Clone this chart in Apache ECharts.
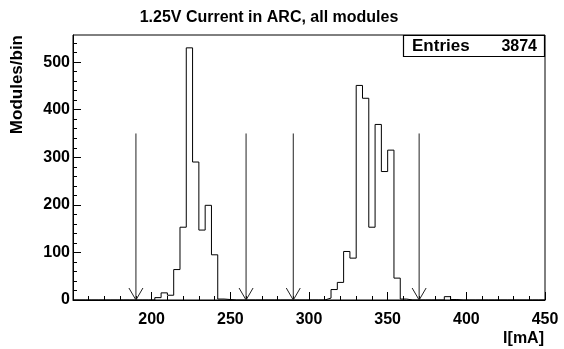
<!DOCTYPE html>
<html>
<head>
<meta charset="utf-8">
<script src="https://cdn.jsdelivr.net/npm/echarts@6/dist/echarts.min.js"></script>
<style>html,body{margin:0;padding:0;background:#fff}#c{width:564px;height:349px}</style>
</head>
<body>
<div id="c"></div>
<script>
var titleText = '1.25V Current in ARC, all modules';
var xTitle = 'I[mA]';
var yTitle = 'Modules/bin';
var xMin = 150, xMax = 450, binWidth = 4;
var yMax = 557;
// counts per 4 mA bin, 150..450 (75 bins)
var counts = [
  0,0,0,0,0,0,0,0,0,0,0,0,0,
  5,15,10,64,153,530,290,147,199,95,2,1,
  0,0,0,0,0,0,0,0,0,0,0,0,0,0,0,
  4,22,37,102,88,451,424,153,369,270,315,46,2,
  0,0,0,0,0,0,
  7,1,
  0,0,0,0,0,0,0,0,0,0,0,0,0,0
];
var arrowX = [190, 260, 290, 370];
var arrowTop = 350;
var entries = 3874;
var yMajorTicks = [0,100,200,300,400,500];
var yMinorTicks = [20,40,60,80,120,140,160,180,220,240,260,280,320,340,360,380,420,440,460,480,520,540];

var histData = counts.map(function(c, i){ return [xMin + binWidth*i, c]; });
histData.push([xMax, counts[counts.length-1]]);

var FONT = '"Liberation Sans", Arial, Helvetica, sans-serif';
var chart = echarts.init(document.getElementById('c'), null, {renderer:'canvas'});
chart.setOption({
  animation: false,
  backgroundColor: '#fff',
  grid: {left: 73, right: 19, top: 35, bottom: 49, show: true, borderColor: '#000', borderWidth: 1, backgroundColor: 'transparent'},
  xAxis: {
    type: 'value', min: xMin, max: xMax, interval: 50,
    axisLine: {show: true, onZero: false, lineStyle: {color: '#000', width: 1}},
    axisTick: {show: true, inside: true, length: 8, lineStyle: {color: '#000'}},
    minorTick: {show: true, splitNumber: 5, length: 4, lineStyle: {color: '#000'}},
    splitLine: {show: false},
    axisLabel: {
      color: '#000', fontFamily: FONT, fontWeight: 'bold', fontSize: 16, margin: 12,
      formatter: function(v){ return v === xMin ? '' : String(v); }
    }
  },
  yAxis: [{
    type: 'value', min: 0, max: yMax,
    axisLine: {show: true, lineStyle: {color: '#000', width: 1}},
    axisTick: {show: true, inside: true, length: 8, customValues: yMajorTicks, lineStyle: {color: '#000'}},
    splitLine: {show: false},
    axisLabel: {color: '#000', fontFamily: FONT, fontWeight: 'bold', fontSize: 16, margin: 3, customValues: yMajorTicks}
  }, {
    type: 'value', min: 0, max: yMax, position: 'left', offset: 0,
    axisLine: {show: false},
    axisTick: {show: true, inside: true, length: 4, customValues: yMinorTicks, lineStyle: {color: '#000'}},
    splitLine: {show: false},
    axisLabel: {show: false}
  }],
  series: [{
    type: 'line', step: 'end', data: histData, showSymbol: false, symbol: 'none',
    lineStyle: {color: '#000', width: 1}, z: 3
  }, {
    type: 'custom', data: arrowX.map(function(x){ return [x, arrowTop]; }),
    renderItem: function(params, api){
      var top = api.coord([api.value(0), api.value(1)]);
      var bot = api.coord([api.value(0), 0]);
      return {type: 'group', children: [
        {type: 'line', shape: {x1: top[0], y1: top[1], x2: bot[0], y2: bot[1]}, style: {stroke: '#222', lineWidth: 1}},
        {type: 'polyline', shape: {points: [[bot[0]-7, bot[1]-12],[bot[0], bot[1]],[bot[0]+7, bot[1]-12]]}, style: {stroke: '#222', lineWidth: 1, fill: null}}
      ]};
    }, z: 4
  }],
  graphic: [
    {type: 'text', x: 269, y: 18, style: {text: titleText, fontFamily: FONT, fontWeight: 'bold', fontSize: 16, fill: '#000', align: 'center', verticalAlign: 'middle'}},
    {type: 'text', x: 17, y: 35, rotation: Math.PI/2, style: {text: yTitle, fontFamily: FONT, fontWeight: 'bold', fontSize: 17, fill: '#000', align: 'right', verticalAlign: 'middle'}},
    {type: 'text', x: 544, y: 339, style: {text: xTitle, fontFamily: FONT, fontWeight: 'bold', fontSize: 16, fill: '#000', align: 'right', verticalAlign: 'middle'}},
    {type: 'rect', shape: {x: 403.5, y: 35.5, width: 141, height: 21}, style: {fill: '#fff', stroke: '#000', lineWidth: 1.2}, z: 10},
    {type: 'text', x: 412, y: 46.5, style: {text: 'Entries', fontFamily: FONT, fontWeight: 'bold', fontSize: 17, fill: '#000', align: 'left', verticalAlign: 'middle'}, z: 11},
    {type: 'text', x: 537, y: 46.5, style: {text: String(entries), fontFamily: FONT, fontWeight: 'bold', fontSize: 16, fill: '#000', align: 'right', verticalAlign: 'middle'}, z: 11}
  ]
});
</script>
</body>
</html>
